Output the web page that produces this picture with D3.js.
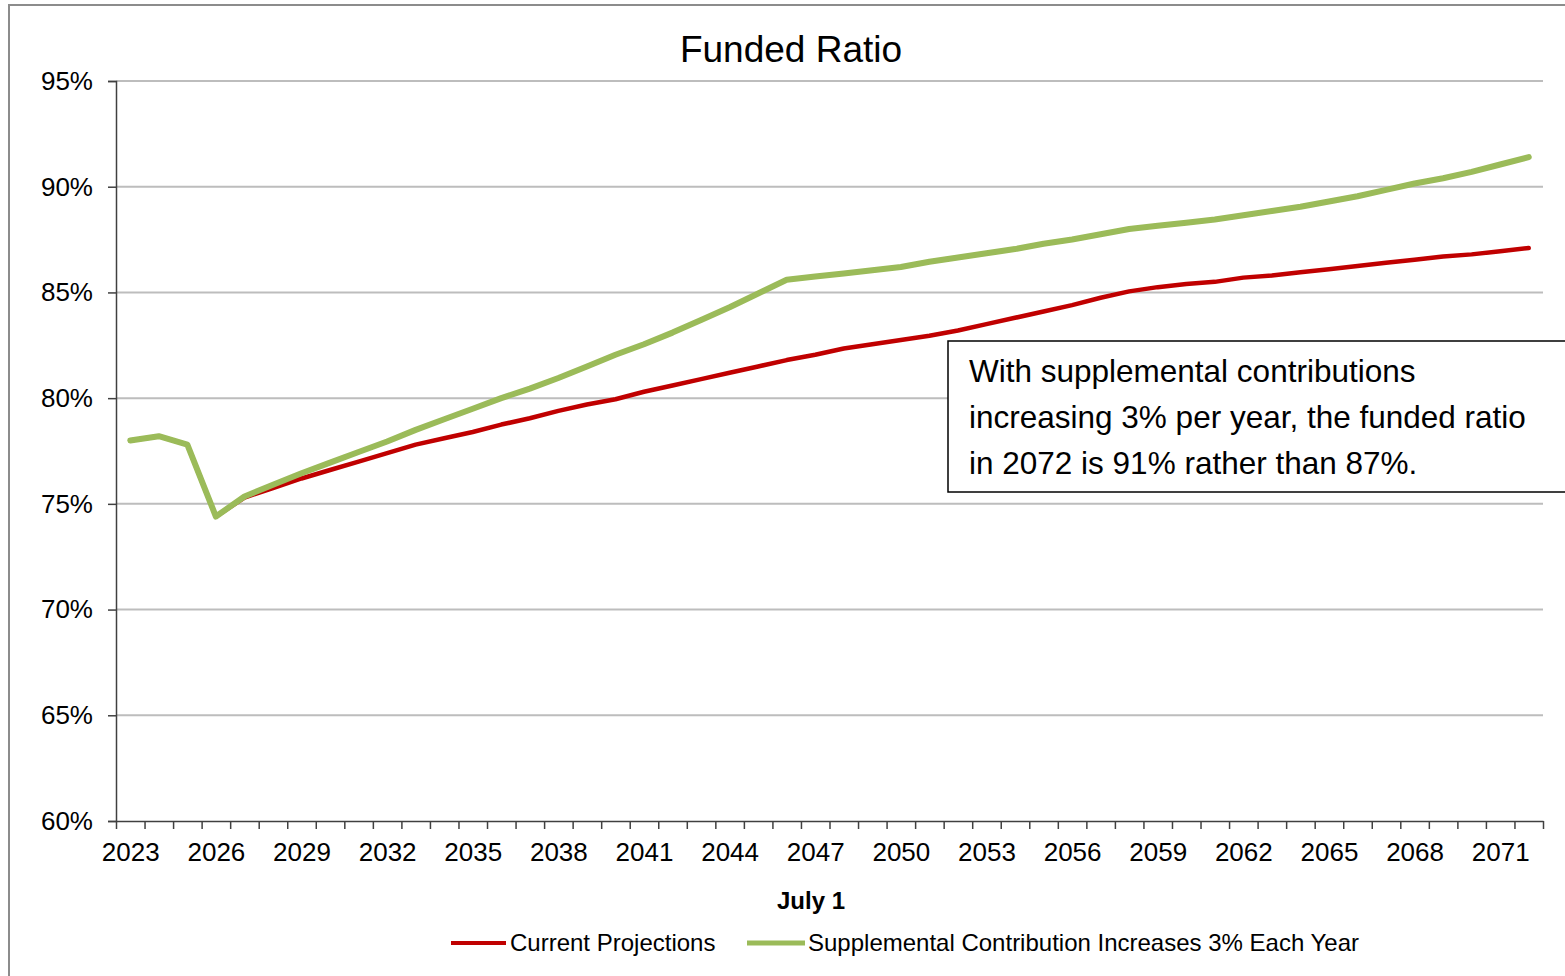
<!DOCTYPE html>
<html>
<head>
<meta charset="utf-8">
<script src="https://cdn.jsdelivr.net/npm/d3@7"></script>
<style>
  html, body { margin: 0; padding: 0; background: #fff; overflow: hidden; }
  svg { display: block; font-family: "Liberation Sans", Arial, sans-serif; }
</style>
</head>
<body>
<div id="chart"></div>
<script>
// Funded ratio projections, July 1 of each year (percent)
const years = d3.range(2023, 2073)

const currentProjections = [
  78.0, 78.2, 77.8, 74.4, 75.3, 75.75, 76.2, 76.6, 77.0, 77.4,
  77.8, 78.1, 78.4, 78.75, 79.05, 79.4, 79.7, 79.95, 80.3, 80.6,
  80.9, 81.2, 81.5, 81.8, 82.05, 82.35, 82.55, 82.75, 82.95, 83.2,
  83.5, 83.8, 84.1, 84.4, 84.75, 85.05, 85.25, 85.4, 85.5, 85.7,
  85.8, 85.95, 86.1, 86.25, 86.4, 86.55, 86.7, 86.8, 86.95, 87.1
]

const supplementalIncreases = [
  78.0, 78.2, 77.8, 74.4, 75.35, 75.9, 76.45, 76.95, 77.45, 77.95,
  78.5, 79.0, 79.5, 80.0, 80.45, 80.95, 81.5, 82.05, 82.55, 83.1,
  83.7, 84.3, 84.95, 85.6, 85.75, 85.9, 86.05, 86.2, 86.45, 86.65,
  86.85, 87.05, 87.3, 87.5, 87.75, 88.0, 88.15, 88.3, 88.45, 88.65,
  88.85, 89.05, 89.3, 89.55, 89.85, 90.15, 90.4, 90.7, 91.05, 91.4
]

const yTicks = [60, 65, 70, 75, 80, 85, 90, 95]
const labelYears = years.filter((d, i) => i % 3 === 0)

const seriesNames = ["Current Projections", "Supplemental Contribution Increases 3% Each Year"]
const seriesColors = ["#c00000", "#9bbb59"]

const annotationLines = [
  "With supplemental contributions",
  "increasing 3% per year, the funded ratio",
  "in 2072 is 91% rather than 87%."
]

// chart dimensions
const width = 1565
const height = 976
const marginTop = 81
const marginBottom = 155   // 976 - 821
const marginLeft = 116
const plotRight = 1543

const svg = d3.select("#chart")
  .append("svg")
  .attr("width", width)
  .attr("height", height)

// outer chart frame (cropped at right and bottom)
svg.append("rect")
  .attr("x", 9).attr("y", 5)
  .attr("width", width + 20).attr("height", height + 20)
  .attr("fill", "none")
  .attr("stroke", "#8c8c8c")
  .attr("stroke-width", 2)

// category axis: one band per year, point at band centre
const x = d3.scaleLinear()
  .domain([years[0] - 0.5, years[years.length - 1] + 0.5])
  .range([marginLeft, plotRight])

const y = d3.scaleLinear()
  .domain([60, 95])
  .range([height - marginBottom, marginTop])

// gridlines
svg.append("g")
  .selectAll("line")
  .data(yTicks.slice(1))
  .join("line")
  .attr("x1", marginLeft).attr("x2", plotRight)
  .attr("y1", d => y(d)).attr("y2", d => y(d))
  .attr("stroke", "#bdbdbd")
  .attr("stroke-width", 2)

// y axis
const yAxis = svg.append("g")
  .attr("transform", `translate(${marginLeft},0)`)
  .call(d3.axisLeft(y).tickValues(yTicks).tickSize(8).tickPadding(15).tickFormat(d => d + "%"))
yAxis.select(".domain").attr("stroke", "#404040").attr("stroke-width", 1.5)
yAxis.selectAll(".tick line").attr("stroke", "#404040").attr("stroke-width", 1.5)
yAxis.selectAll(".tick text")
  .attr("fill", "#000")
  .style("font-size", "26px")
  .style("font-family", "'Liberation Sans', Arial, sans-serif")

// x axis tick marks at band edges
const xTickAxis = svg.append("g")
  .attr("transform", `translate(0,${height - marginBottom})`)
  .call(d3.axisBottom(x)
    .tickValues(d3.range(years[0] - 0.5, years[years.length - 1] + 1, 1))
    .tickSize(8).tickSizeOuter(0).tickFormat(""))
xTickAxis.select(".domain").attr("stroke", "#404040").attr("stroke-width", 1.5)
xTickAxis.selectAll(".tick line").attr("stroke", "#404040").attr("stroke-width", 1.5)

// x axis labels every third year
const xLabelAxis = svg.append("g")
  .attr("transform", `translate(0,${height - marginBottom})`)
  .call(d3.axisBottom(x).tickValues(labelYears).tickSize(0).tickPadding(22).tickFormat(d3.format("d")))
xLabelAxis.select(".domain").remove()
xLabelAxis.selectAll(".tick text")
  .attr("fill", "#000")
  .style("font-size", "26px")
  .style("font-family", "'Liberation Sans', Arial, sans-serif")

// title
svg.append("text")
  .attr("x", 791).attr("y", 62)
  .attr("text-anchor", "middle")
  .style("font-size", "37px")
  .text("Funded Ratio")

// x axis title
svg.append("text")
  .attr("x", 811).attr("y", 909)
  .attr("text-anchor", "middle")
  .style("font-size", "24px")
  .style("font-weight", "bold")
  .text("July 1")

// lines
const line = d3.line()
  .x((d, i) => x(years[i]))
  .y(d => y(d))

svg.append("path")
  .datum(currentProjections)
  .attr("fill", "none")
  .attr("stroke", seriesColors[0])
  .attr("stroke-width", 4.5)
  .attr("stroke-linejoin", "round")
  .attr("stroke-linecap", "round")
  .attr("d", line)

svg.append("path")
  .datum(supplementalIncreases)
  .attr("fill", "none")
  .attr("stroke", seriesColors[1])
  .attr("stroke-width", 6)
  .attr("stroke-linejoin", "round")
  .attr("stroke-linecap", "round")
  .attr("d", line)

// annotation box
const note = svg.append("g")
note.append("rect")
  .attr("x", 948).attr("y", 341)
  .attr("width", 700).attr("height", 151)
  .attr("fill", "#fff")
  .attr("stroke", "#000")
  .attr("stroke-width", 1.5)
note.selectAll("text")
  .data(annotationLines)
  .join("text")
  .attr("x", 969)
  .attr("y", (d, i) => 382 + i * 46)
  .style("font-size", "31.5px")
  .text(d => d)

// legend
const legendItems = [
  { x1: 451, x2: 506, tx: 510 },
  { x1: 747, x2: 805, tx: 808 }
]
const legend = svg.append("g")
legendItems.forEach((it, i) => {
  legend.append("line")
    .attr("x1", it.x1).attr("x2", it.x2)
    .attr("y1", 943).attr("y2", 943)
    .attr("stroke", seriesColors[i])
    .attr("stroke-width", i === 0 ? 4 : 5)
  legend.append("text")
    .attr("x", it.tx).attr("y", 951)
    .style("font-size", "24px")
    .text(seriesNames[i])
})
</script>
</body>
</html>
